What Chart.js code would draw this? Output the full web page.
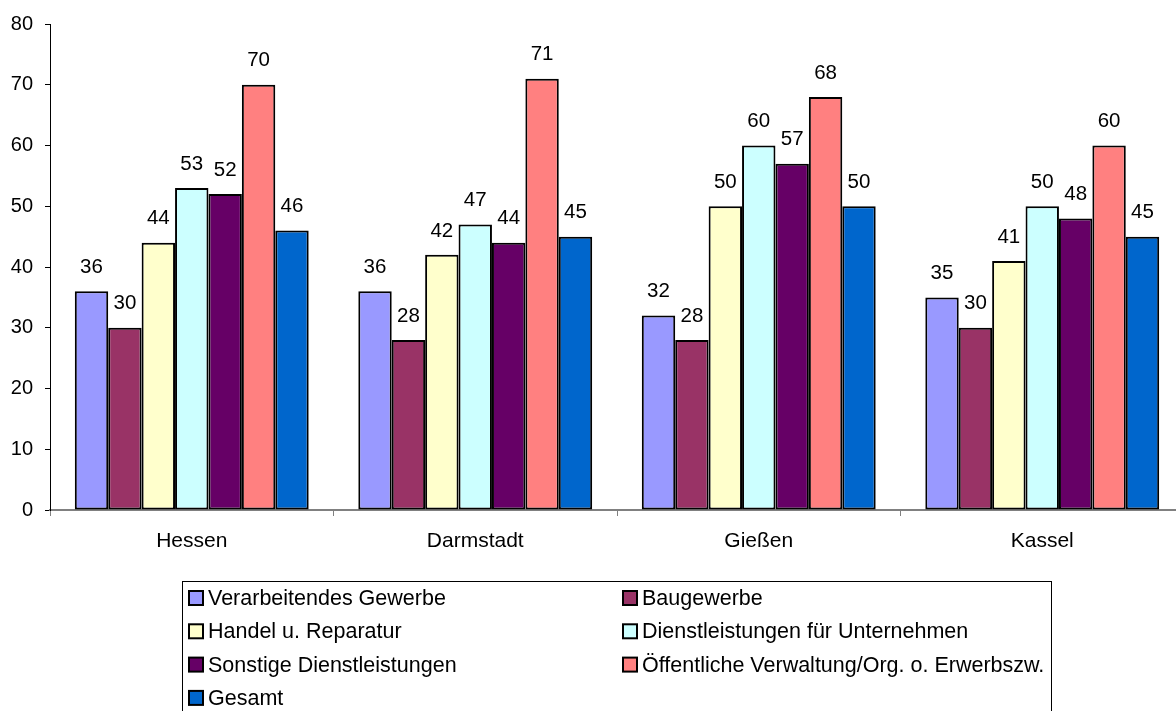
<!DOCTYPE html>
<html>
<head>
<meta charset="utf-8">
<script src="https://cdn.jsdelivr.net/npm/chart.js@4/dist/chart.umd.min.js"></script>
<style>
    html, body { margin: 0; padding: 0; background: #fff; overflow: hidden; }
    #wrap { width: 1200px; height: 711px; }
</style>
</head>
<body>
<div id="wrap"><canvas id="barChart" width="1200" height="711"></canvas></div>
<script>
// Categories and series
const regions = ['Hessen', 'Darmstadt', 'Gießen', 'Kassel'];
const seriesNames = [
    'Verarbeitendes Gewerbe',
    'Baugewerbe',
    'Handel u. Reparatur',
    'Dienstleistungen für Unternehmen',
    'Sonstige Dienstleistungen',
    'Öffentliche Verwaltung/Org. o. Erwerbszw.',
    'Gesamt'
];
const verarbeitend = [36, 36, 32, 35];
const bau = [30, 28, 28, 30];
const handel = [44, 42, 50, 41];
const dienstUnternehmen = [53, 47, 60, 50];
const sonstige = [52, 44, 57, 48];
const oeffentlich = [70, 71, 68, 60];
const gesamt = [46, 45, 50, 45];
const yTicks = [0, 10, 20, 30, 40, 50, 60, 70, 80];

const seriesValues = [verarbeitend, bau, handel, dienstUnternehmen, sonstige, oeffentlich, gesamt];
const seriesColors = ['#9999FF', '#993366', '#FFFFCC', '#CCFFFF', '#660066', '#FF8080', '#0066CC'];

const FONT = 'Liberation Sans, Arial, sans-serif';

// Value labels above each bar
const valueLabels = {
    id: 'valueLabels',
    afterDatasetsDraw(chart) {
        const ctx = chart.ctx;
        ctx.save();
        ctx.font = '20.5px ' + FONT;
        ctx.fillStyle = '#000';
        ctx.textAlign = 'center';
        ctx.textBaseline = 'middle';
        chart.data.datasets.forEach((ds, i) => {
            chart.getDatasetMeta(i).data.forEach((bar, j) => {
                ctx.fillText(String(ds.data[j]), bar.x, bar.y - 24);
            });
        });
        ctx.restore();
    }
};

// Boxed legend in two columns below the plot
const boxLegend = {
    id: 'boxLegend',
    afterDraw(chart) {
        const ctx = chart.ctx;
        ctx.save();
        ctx.strokeStyle = '#000';
        ctx.lineWidth = 1;
        ctx.strokeRect(182.5, 581.5, 869, 140);
        ctx.font = '21.5px ' + FONT;
        ctx.textBaseline = 'middle';
        ctx.textAlign = 'left';
        chart.data.datasets.forEach((ds, i) => {
            const col = i % 2;
            const row = Math.floor(i / 2);
            const x = col === 0 ? 189 : 623;
            const y = 598 + row * 33.3;
            ctx.fillStyle = ds.backgroundColor;
            ctx.fillRect(x, y - 7, 14, 14);
            ctx.lineWidth = 2;
            ctx.strokeRect(x, y - 7, 14, 14);
            ctx.fillStyle = '#000';
            ctx.fillText(ds.label, x + 19, y + 1);
        });
        ctx.restore();
    }
};

new Chart(document.getElementById('barChart').getContext('2d'), {
    type: 'bar',
    data: {
        labels: regions,
        datasets: seriesNames.map((name, i) => ({
            label: name,
            data: seriesValues[i],
            backgroundColor: seriesColors[i],
            borderColor: '#000',
            borderWidth: 2,
            borderSkipped: false,
            categoryPercentage: 0.825,
            barPercentage: 1.0
        }))
    },
    options: {
        responsive: false,
        animation: false,
        layout: { padding: { top: 22, right: 16, left: 0, bottom: 0 } },
        plugins: {
            legend: { display: false },
            tooltip: { enabled: false }
        },
        scales: {
            x: {
                grid: { drawOnChartArea: false, drawTicks: true, tickLength: 6, color: '#808080' },
                border: { color: '#808080', width: 2 },
                ticks: { color: '#000', font: { family: FONT, size: 21 }, padding: 13 },
                afterFit: s => { s.height = 201; }
            },
            y: {
                min: 0,
                max: 80,
                afterBuildTicks: s => { s.ticks = yTicks.map(v => ({ value: v })); },
                grid: { drawOnChartArea: false, drawTicks: true, tickLength: 5, color: '#000' },
                border: { color: '#000', width: 1 },
                ticks: { color: '#000', font: { family: FONT, size: 20 }, padding: 12 },
                afterFit: s => { s.width = 50; }
            }
        }
    },
    plugins: [valueLabels, boxLegend]
});
</script>
</body>
</html>
